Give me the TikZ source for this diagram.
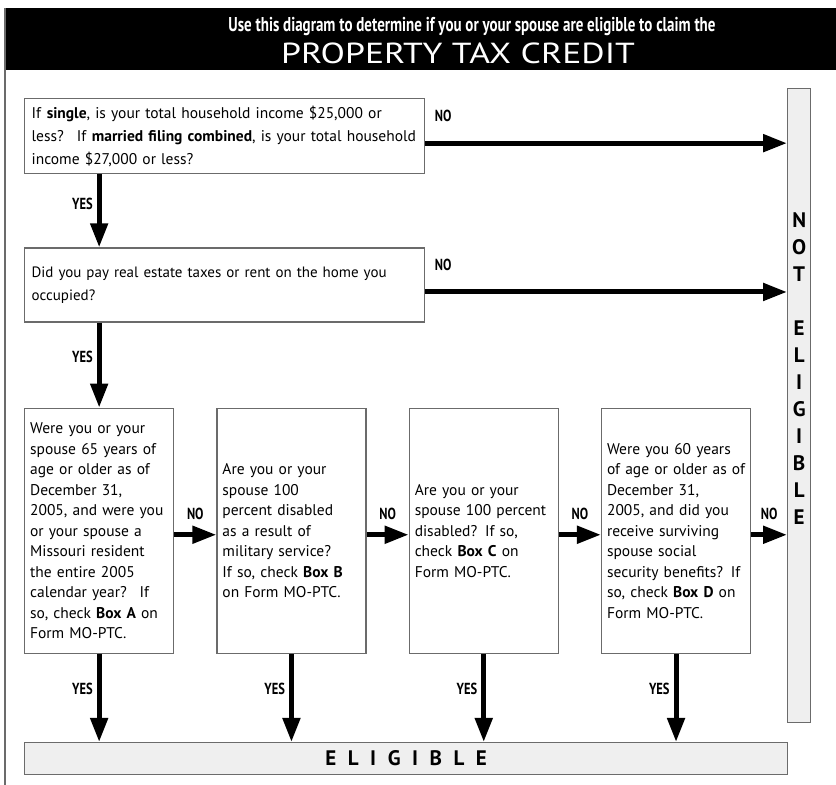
\documentclass[tikz,border=0pt]{standalone}
\usepackage{fontspec}
\setmainfont{PT Sans}
\newfontfamily\narrowfont[FakeStretch=0.78]{PT Sans}
\newfontfamily\headfont[FakeStretch=0.75]{PT Sans}
\newfontfamily\bigheadfont[FakeStretch=1.23]{PT Sans}
\usetikzlibrary{arrows.meta,positioning}
\definecolor{boxgray}{HTML}{EFEFEF}
\definecolor{edgegray}{HTML}{6B6B6B}

\tikzset{
  qbox/.style={draw=edgegray,line width=1.3pt,fill=white,inner xsep=7pt,inner ysep=4pt,
    align=left,anchor=north west,font=\fontsize{15.5}{23}\selectfont},
  tallbox/.style={qbox,inner xsep=5.5pt,text width=138pt,minimum height=245pt,
    font=\fontsize{15.5}{20.5}\selectfont},
  widebox/.style={qbox,text width=386pt,minimum height=75pt},
  endbox/.style={draw=edgegray,line width=1.3pt,fill=boxgray,anchor=north west,inner sep=0pt},
  fat/.style={line width=5pt,-{Triangle[length=24pt,width=17pt]}},
  lbl/.style={font=\narrowfont\bfseries\fontsize{16}{16}\selectfont,inner sep=1pt},
  spaced/.style={font=\bfseries\fontsize{21}{27}\selectfont}
}

\begin{document}
\begin{tikzpicture}[x=1pt,y=-1pt]
  \useasboundingbox (0,0) rectangle (836,785);

  % heading
  \fill[black] (5,8) rectangle (836,70);
  \draw[edgegray,line width=1.3pt] (5,8) -- (5,785);
  \node[white,font=\headfont\bfseries\fontsize{20}{20}\selectfont] (head1) at (472,27)
    {Use this diagram to determine if you or your spouse are eligible to claim the};
  \node[white,font=\bigheadfont\fontsize{29}{29}\selectfont] (head2) at (458,53)
    {PROPERTY TAX CREDIT};

  % questions
  \node[widebox] (q1) at (24,98)
    {If \textbf{single}, is your total household income \$25,000 or\\
     less?~ If \textbf{married filing combined}, is your total household\\
     income \$27,000 or less?};
  \node[widebox,minimum height=74pt,font=\fontsize{15}{23}\selectfont] (q2) [below=73pt of q1]
    {Did you pay real estate taxes or rent on the home you\\ occupied?};

  \node[tallbox] (qa) [below=85pt of q2.south west,anchor=north west]
    {Were you or your\\ spouse 65 years of\\ age or older as of\\ December 31,\\
     2005, and were you\\ or your spouse a\\ Missouri resident\\ the entire 2005\\
     calendar year?~ If\\ so, check \textbf{Box A} on\\ Form MO-PTC.};
  \node[tallbox] (qb) [right=42pt of qa]
    {Are you or your\\ spouse 100\\ percent disabled\\ as a result of\\
     military service?\\ If so, check \textbf{Box B}\\ on Form MO-PTC.};
  \node[tallbox] (qc) [right=42pt of qb]
    {Are you or your\\ spouse 100 percent\\ disabled? If so,\\
     check \textbf{Box C} on\\ Form MO-PTC.};
  \node[tallbox] (qd) [right=42pt of qc]
    {Were you 60 years\\ of age or older as of\\ December 31,\\ 2005, and did you\\
     receive surviving\\ spouse social\\ security benefits? If\\
     so, check \textbf{Box D} on\\ Form MO-PTC.};

  % outcomes
  \node[endbox,minimum width=763pt,minimum height=32pt,spaced] (elig)
    [below=88pt of qa.south west,anchor=north west]
    {\addfontfeature{LetterSpace=55}ELIGIBLE};
  \node[endbox,minimum width=23pt,minimum height=634pt] (notelig) at (787,88) {};
  \node[spaced,align=center] (noteliglbl) at ([yshift=37pt]notelig.center)
    {N\\O\\T\\ \\E\\L\\I\\G\\I\\B\\L\\E};

  % no
  \draw[fat] ([yshift=-7pt]q1.east) -- ([yshift=-7pt]q1.east -| notelig.west)
    node[lbl,pos=0,anchor=south west,xshift=6pt,yshift=18pt] {NO};
  \draw[fat] ([yshift=-7pt]q2.east) -- ([yshift=-7pt]q2.east -| notelig.west)
    node[lbl,pos=0,anchor=south west,xshift=6pt,yshift=18pt] {NO};
  \foreach \a/\b in {qa/qb,qb/qc,qc/qd}
    \draw[fat] ([yshift=-4pt]\a.east) -- ([yshift=-4pt]\b.west)
      node[lbl,midway,above=12pt] {NO};
  \draw[fat] ([yshift=-4pt]qd.east) -- ([yshift=-4pt]qd.east -| notelig.west)
    node[lbl,midway,above=12pt] {NO};

  % yes
  \draw[fat] (q1.south -| qa.north) -- (q2.north -| qa.north)
    node[lbl,pos=0.4,left=3pt] {YES};
  \draw[fat] (q2.south -| qa.north) -- (qa.north)
    node[lbl,pos=0.4,left=3pt] {YES};
  \foreach \q in {qa,qb,qc,qd}
    \draw[fat] (\q.south) -- (\q.south |- elig.north)
      node[lbl,pos=0.4,left=3pt] {YES};
\end{tikzpicture}
\end{document}
